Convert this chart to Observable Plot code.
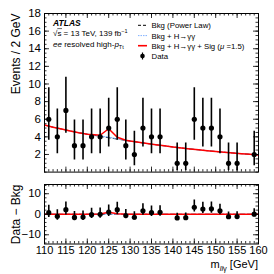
<!DOCTYPE html>
<html><head><meta charset="utf-8">
<script src="https://cdn.jsdelivr.net/npm/d3@7"></script>
<script src="https://cdn.jsdelivr.net/npm/@observablehq/plot@0.6"></script>
<style>
body{margin:0;background:#fff;font-family:"Liberation Sans",Arial,sans-serif}
#wrap{position:relative;width:274px;height:274px;overflow:hidden}
#wrap svg.plot{display:block}
</style>
</head><body><div id="wrap"></div>
<script>
// ---- data ----
const binMass = [111,113,115,117,119,121,123,125,127,129,131,133,135,137,141,143,145,147,149,151,153,155,159];
const counts  = [6,4,7,3,3,4,4,5,6,3,2,5,4,4,1,1,6,5,5,4,1,1,2];
const errLow  = [3.62,2.09,4.42,1.37,1.37,2.09,2.09,2.84,3.62,1.37,0.708,2.84,2.09,2.09,0.173,0.173,3.62,2.84,2.84,2.09,0.173,0.173,0.708];
const errHigh = [9.58,7.16,10.77,5.92,5.92,7.16,7.16,8.38,9.58,5.92,4.64,8.38,7.16,7.16,3.30,3.30,9.58,8.38,8.38,7.16,3.30,3.30,4.64];
const bkgAtBin = [5.22,4.99,4.77,4.57,4.38,4.22,4.06,3.90,3.75,3.60,3.45,3.31,3.17,3.04,2.80,2.68,2.58,2.48,2.38,2.29,2.21,2.13,1.98];

const curveMass = [110,112,114,116,118,120,121,123,125,127,129,130,132,134,136,138,140,142,144,146,148,150,152,154,156,158,160];
const bkgCurve  = [5.35,5.10,4.88,4.67,4.47,4.30,4.22,4.06,3.90,3.75,3.60,3.52,3.38,3.24,3.11,2.98,2.85,2.74,2.63,2.53,2.43,2.34,2.25,2.17,2.09,2.02,1.95];
const bkgHCurve = [5.35,5.10,4.88,4.67,4.47,4.30,4.22,4.07,3.97,3.77,3.60,3.52,3.38,3.24,3.11,2.98,2.85,2.74,2.63,2.53,2.43,2.34,2.25,2.17,2.09,2.02,1.95];
const sigCurve  = [5.35,5.10,4.88,4.67,4.47,4.30,4.26,4.18,4.92,3.95,3.62,3.52,3.38,3.24,3.11,2.98,2.85,2.74,2.63,2.53,2.43,2.34,2.25,2.17,2.09,2.02,1.95];

const xTickLabels = [110,115,120,125,130,135,140,145,150,155,160];
const yTopLabels = [2,4,6,8,10,12,14,16,18];
const yBotLabels = [-10,0,10];

// ---- derived tables ----
const points = binMass.map((m,i)=>({m, n:counts[i], lo:errLow[i], hi:errHigh[i],
  r:counts[i]-bkgAtBin[i], rlo:errLow[i]-bkgAtBin[i], rhi:errHigh[i]-bkgAtBin[i]}));
const curves = curveMass.map((m,i)=>({m, bkg:bkgCurve[i], bh:bkgHCurve[i], sig:sigCurve[i],
  dbkg:0, dbh:bkgHCurve[i]-bkgCurve[i], dsig:sigCurve[i]-bkgCurve[i]}));

const W = 274, ML = 44, MR = 16, FW = W-ML-MR;
const xMinor = d3.range(110,160.01,1), xMajor = xTickLabels;

function frameTicks(FH, yMajor, yMinor){
  const s = {stroke:"black", strokeWidth:0.8};
  return [
    Plot.tickX(xMajor,{x:d=>d, insetTop:FH-5, ...s}),
    Plot.tickX(xMajor,{x:d=>d, insetBottom:FH-5, ...s}),
    Plot.tickX(xMinor,{x:d=>d, insetTop:FH-2.5, ...s}),
    Plot.tickX(xMinor,{x:d=>d, insetBottom:FH-2.5, ...s}),
    Plot.tickY(yMajor,{y:d=>d, insetRight:FW-5, ...s}),
    Plot.tickY(yMajor,{y:d=>d, insetLeft:FW-5, ...s}),
    Plot.tickY(yMinor,{y:d=>d, insetRight:FW-2.5, ...s}),
    Plot.tickY(yMinor,{y:d=>d, insetLeft:FW-2.5, ...s}),
    Plot.frame({stroke:"black", strokeWidth:1})
  ];
}
const fmt = d => d<0 ? "\u2212"+Math.abs(d) : String(d);

// ---- top panel ----
const H1 = 180, MT1 = 13, MB1 = 8.4, FH1 = H1-MT1-MB1;
const topPlot = Plot.plot({
  width:W, height:H1, marginLeft:ML, marginRight:MR, marginTop:MT1, marginBottom:MB1,
  style:{fontFamily:"Liberation Sans, Arial, sans-serif", background:"white", overflow:"visible"},
  x:{domain:[110,160], axis:null},
  y:{domain:[0,18], axis:null},
  marks:[
    Plot.line(curves,{x:"m", y:"bkg", stroke:"black", strokeWidth:1, strokeDasharray:"4,3", clip:true}),
    Plot.line(curves,{x:"m", y:"bh", stroke:"#7fb0ff", strokeWidth:1, strokeDasharray:"2,1.5", clip:true}),
    Plot.line(curves,{x:"m", y:"sig", stroke:"#ff0000", strokeWidth:1.5, clip:true}),
    Plot.ruleX(points,{x:"m", y1:"lo", y2:"hi", stroke:"black", strokeWidth:1.6, clip:true}),
    Plot.dot(points,{x:"m", y:"n", r:2.6, fill:"black", stroke:"none"}),
    ...frameTicks(FH1, yTopLabels, d3.range(0,18.01,0.5)),
    Plot.text(yTopLabels,{y:d=>d, frameAnchor:"left", dx:-3.5, textAnchor:"end", text:fmt, fontSize:11.5, fill:"black"}),
    Plot.text(["Events / 2 GeV"],{frameAnchor:"top-left", dx:-33.5, dy:0, rotate:-90, textAnchor:"end", text:d=>d, fontSize:12, fill:"black"})
  ]
});
topPlot.classList.add("plot");

// ---- bottom panel ----
const H2 = 94, MT2 = 4, MB2 = 30.5, FH2 = H2-MT2-MB2;
const botPlot = Plot.plot({
  width:W, height:H2, marginLeft:ML, marginRight:MR, marginTop:MT2, marginBottom:MB2,
  style:{fontFamily:"Liberation Sans, Arial, sans-serif", background:"white", overflow:"visible"},
  x:{domain:[110,160], axis:null},
  y:{domain:[-14.5,14.5], axis:null},
  marks:[
    Plot.line(curves,{x:"m", y:"dbkg", stroke:"black", strokeWidth:1, strokeDasharray:"4,3", clip:true}),
    Plot.line(curves,{x:"m", y:"dbh", stroke:"#7fb0ff", strokeWidth:1, strokeDasharray:"2,1.5", clip:true}),
    Plot.line(curves,{x:"m", y:"dsig", stroke:"#ff0000", strokeWidth:1.5, clip:true}),
    Plot.ruleX(points,{x:"m", y1:"rlo", y2:"rhi", stroke:"black", strokeWidth:1.6, clip:true}),
    Plot.dot(points,{x:"m", y:"r", r:2.6, fill:"black", stroke:"none"}),
    ...frameTicks(FH2, [-10,0,10], d3.range(-14,14.01,2)),
    Plot.text(yBotLabels,{y:d=>d, frameAnchor:"left", dx:-3.5, textAnchor:"end", text:fmt, fontSize:11.5, fill:"black"}),
    Plot.text(xTickLabels,{x:d=>d, frameAnchor:"bottom", dy:9.5, text:fmt, fontSize:11, fill:"black"}),
    Plot.text(["Data \u2212 Bkg"],{frameAnchor:"top-left", dx:-33.5, dy:0, rotate:-90, textAnchor:"end", text:d=>d, fontSize:12, fill:"black"})
  ]
});
botPlot.classList.add("plot");

const wrap = document.getElementById("wrap");
wrap.appendChild(topPlot);
wrap.appendChild(botPlot);

// ---- annotations and legend ----
const ns = "http://www.w3.org/2000/svg";
const ov = document.createElementNS(ns,"svg");
ov.setAttribute("width",W); ov.setAttribute("height",274);
ov.style.cssText = "position:absolute;left:0;top:0;pointer-events:none";
ov.setAttribute("font-family","Liberation Sans, Arial, sans-serif");
ov.innerHTML = `
<text x="53" y="25.7" font-size="8.5" font-weight="bold" font-style="italic">ATLAS</text>
<text x="53" y="35.6" font-size="8">\u221As = 13 TeV, 139 fb<tspan dy="-3" font-size="5.5">\u22121</tspan></text>
<line x1="57.3" x2="62" y1="28.6" y2="28.6" stroke="black" stroke-width="0.6"/>
<text x="53" y="46.8" font-size="8"><tspan font-style="italic">ee</tspan> resolved high-<tspan font-style="italic">p</tspan><tspan dy="2" font-size="5.5">Tt</tspan></text>
<line x1="138" x2="147" y1="25.3" y2="25.3" stroke="black" stroke-width="1" stroke-dasharray="3,2"/>
<text x="151.5" y="28.2" font-size="7.8">Bkg (Power Law)</text>
<line x1="138" x2="147" y1="35.6" y2="35.6" stroke="#7fb0ff" stroke-width="1" stroke-dasharray="1.5,1"/>
<text x="151.5" y="38.5" font-size="7.8">Bkg + H\u2192\u03B3\u03B3</text>
<line x1="138" x2="147" y1="45.7" y2="45.7" stroke="#ff0000" stroke-width="1.6"/>
<text x="151.5" y="48.6" font-size="7.8">Bkg + H\u2192\u03B3\u03B3 + Sig (<tspan font-style="italic">\u03BC</tspan> =1.5)</text>
<line x1="142.5" x2="142.5" y1="52.5" y2="59.5" stroke="black" stroke-width="1.2"/>
<circle cx="142.5" cy="56" r="2.3" fill="black"/>
<text x="151.5" y="58.9" font-size="7.8">Data</text>
<text x="258" y="268" font-size="11" text-anchor="end">m<tspan dy="2.5" font-size="7.5" font-style="italic">ll</tspan><tspan font-size="7.5">\u03B3</tspan><tspan dy="-2.5"> [GeV]</tspan></text>
`;
wrap.appendChild(ov);
</script>
</body></html>
